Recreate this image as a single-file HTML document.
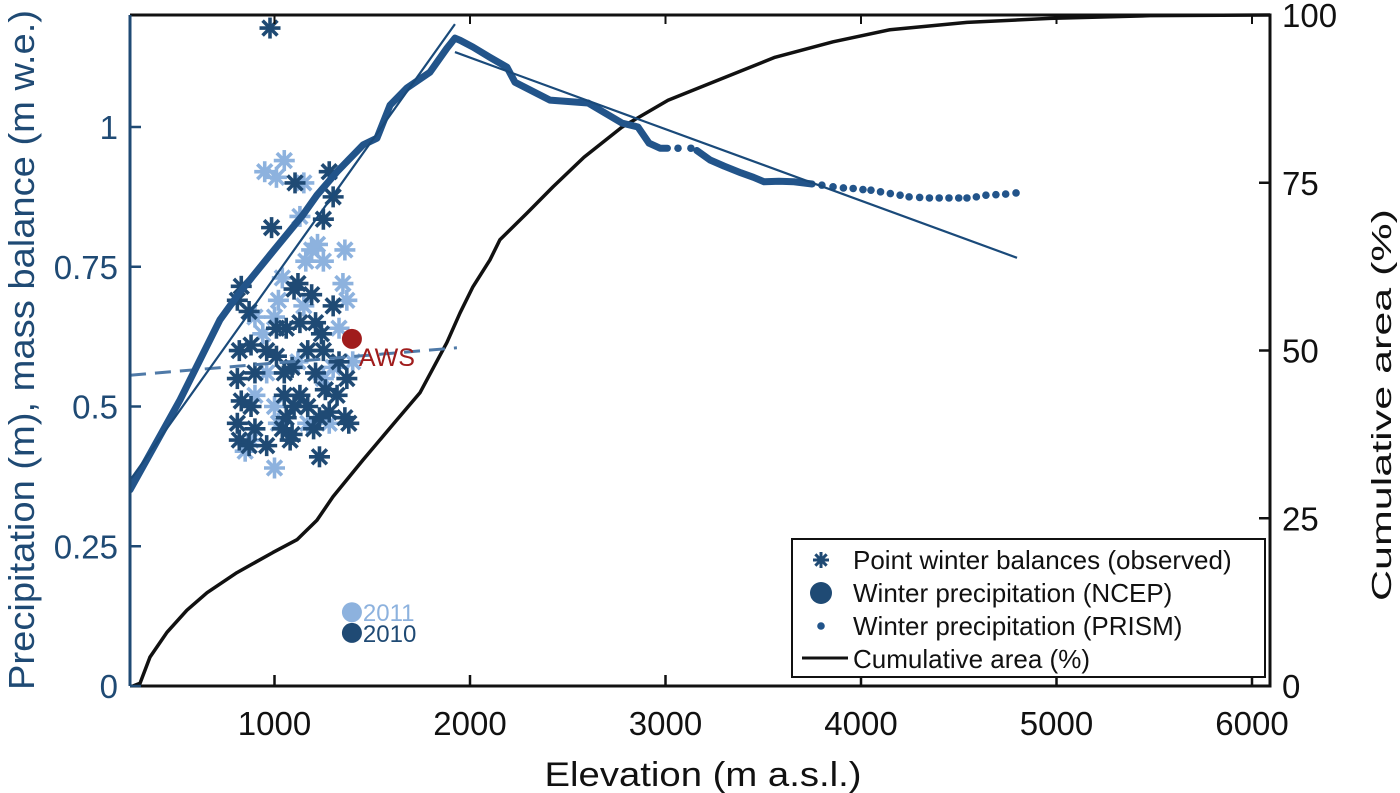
<!DOCTYPE html>
<html><head><meta charset="utf-8">
<style>
html,body{margin:0;padding:0;background:#fff;}
svg{display:block;font-family:"Liberation Sans",sans-serif;}
</style></head>
<body>
<svg id="chart" width="1400" height="793" viewBox="0 0 1400 793" xmlns="http://www.w3.org/2000/svg">
<g id="plot"></g>
</svg>
<script>
const xTicks=[1000,2000,3000,4000,5000,6000];
const yLeftTicks=[0,0.25,0.5,0.75,1];
const yLeftLabels=["0","0.25","0.5","0.75","1"];
const yRightTicks=[0,25,50,75,100];
const prismElev=[261,517,721,824,977,1146,1217,1320,1453,1524,1591,1678,1795,1882,1923,1950,2015,2100,2189,2230,2409,2604,2778,2859,2916,2972,3010];
const prismVal=[0.351,0.512,0.655,0.705,0.771,0.843,0.878,0.920,0.968,0.980,1.039,1.070,1.098,1.141,1.159,1.155,1.143,1.125,1.107,1.080,1.048,1.043,1.007,1.000,0.971,0.962,0.962];
const prism2Elev=[3160,3228,3300,3386,3450,3504,3580,3657,3750];
const prism2Val=[0.958,0.941,0.930,0.918,0.910,0.902,0.903,0.902,0.898];
const prismDotElev=[3064,3130,3800,3857,3910,3960,4010,4051,4100,4150,4200,4246,4300,4350,4400,4450,4500,4542,4590,4639,4690,4740,4793];
const prismDotVal=[0.962,0.962,0.896,0.893,0.891,0.890,0.888,0.887,0.884,0.881,0.878,0.875,0.874,0.873,0.873,0.873,0.873,0.873,0.875,0.878,0.879,0.880,0.882];
const fit1Elev=[261,1923], fit1Val=[0.368,1.184];
const fit2Elev=[1923,4798], fit2Val=[1.134,0.766];
const dashElev=[261,1933], dashVal=[0.556,0.605];
const cumElev=[276,312,363,450,552,655,808,992,1115,1217,1299,1453,1627,1744,1882,1949,2015,2102,2153,2292,2425,2583,2778,3013,3269,3560,3857,4148,4542,4967,5478,6092];
const cumPct=[0,0.4,4.3,8.0,11.3,13.9,16.9,19.9,21.8,24.7,28.2,33.7,39.7,43.7,51.2,55.6,59.5,63.5,66.5,70.5,74.4,78.8,83.3,87.3,90.3,93.7,96.0,97.8,98.9,99.5,99.9,100];
const lightElev=[950,1050,1010,1130,1150,1220,1190,1250,1160,1360,1350,1370,1040,1020,1000,1150,900,940,1330,1400,960,900,1000,1120,1300,1280,1170,850,1000,880,1020,1250];
const lightVal=[0.92,0.94,0.91,0.84,0.90,0.79,0.78,0.76,0.76,0.78,0.72,0.69,0.73,0.69,0.66,0.68,0.66,0.63,0.64,0.58,0.56,0.52,0.50,0.58,0.57,0.47,0.47,0.42,0.39,0.44,0.47,0.55];
const darkElev=[977,985,1105,1280,1300,1250,830,810,870,1190,1120,1100,1300,1010,1060,1130,1210,1240,880,820,960,1010,1170,1250,1330,1370,810,900,1050,1090,1210,1260,1320,830,880,1050,1100,1170,1230,1280,1360,1380,810,900,1040,1090,1200,820,870,960,1230,1080,1130,1060];
const darkVal=[1.177,0.82,0.90,0.92,0.875,0.835,0.715,0.69,0.67,0.70,0.72,0.71,0.68,0.64,0.64,0.65,0.65,0.63,0.61,0.60,0.60,0.59,0.60,0.60,0.58,0.55,0.55,0.56,0.56,0.57,0.56,0.53,0.52,0.51,0.50,0.52,0.50,0.50,0.48,0.49,0.48,0.47,0.47,0.46,0.46,0.45,0.46,0.44,0.43,0.43,0.41,0.44,0.52,0.48];
const awsElev=1396, awsVal=0.621;
const ncepElev=[1396,1396], ncepVal=[0.132,0.095], ncepYear=["2011","2010"];

const L=130,R=1270,T=15,B=686;
const X=e=>79+e*0.1955;
const Y=v=>B-v*559;
const YR=p=>B-p*(B-T)/100;
const NS="http://www.w3.org/2000/svg";
const g=document.getElementById('plot');
function mk(tag,attrs,parent){const el=document.createElementNS(NS,tag);for(const k in attrs)el.setAttribute(k,attrs[k]);(parent||g).appendChild(el);return el;}
const DARK="#1f4a74",LIGHT="#8db2de",BLUE="#22548a";

const defs=mk('defs',{});
const cp=mk('clipPath',{id:'clip'},defs);mk('rect',{x:L,y:T-5,width:R-L,height:B-T+5},cp);
const inner=mk('g',{'clip-path':'url(#clip)'});

let cum=mk('polyline',{points:cumElev.map((e,i)=>X(e)+','+YR(cumPct[i])).join(' '),fill:'none',stroke:'#111',"stroke-width":3.5,"stroke-linejoin":"round"},inner);



function star(cx,cy,col,name){const s=mk('g',{},inner);


for(let a=0;a<4;a++){const t=a*Math.PI/4,r=10.5;mk('line',{x1:cx-r*Math.cos(t),y1:cy-r*Math.sin(t),x2:cx+r*Math.cos(t),y2:cy+r*Math.sin(t),stroke:col,"stroke-width":3.6},s);}}
lightElev.forEach((e,i)=>star(X(e),Y(lightVal[i]),LIGHT,'winter-balance-2011'));
darkElev.forEach((e,i)=>star(X(e),Y(darkVal[i]),DARK,'winter-balance-2010'));

let d=mk('line',{x1:X(dashElev[0]),y1:Y(dashVal[0]),x2:X(dashElev[1]),y2:Y(dashVal[1]),stroke:'#4f7aa8',"stroke-width":3,"stroke-dasharray":"16,9"},inner);



[[prismElev,prismVal,'prism-precipitation-line'],[prism2Elev,prism2Val,'prism-precipitation-line-upper']].forEach(([E,V,n])=>{
const p=mk('polyline',{points:E.map((e,i)=>X(e)+','+Y(V[i])).join(' '),fill:'none',stroke:BLUE,"stroke-width":7,"stroke-linejoin":"round","stroke-linecap":"round"},inner);

});
prismDotElev.forEach((e,i)=>{const c=mk('circle',{cx:X(e),cy:Y(prismDotVal[i]),r:3.8,fill:BLUE},inner);

});
[[fit1Elev,fit1Val,'prism-fit-lower'],[fit2Elev,fit2Val,'prism-fit-upper']].forEach(([E,V,n])=>{const l=mk('line',{x1:X(E[0]),y1:Y(V[0]),x2:X(E[1]),y2:Y(V[1]),stroke:'#1a4a7a',"stroke-width":2.2},inner);

});

let aw=mk('circle',{cx:X(awsElev),cy:Y(awsVal),r:10,fill:'#a01c1c'},inner);


let at=mk('text',{x:X(awsElev)+7,y:Y(awsVal)+27,fill:'#a01c1c',"font-size":25});at.textContent='AWS';


ncepElev.forEach((e,i)=>{const col=i==0?LIGHT:DARK;
const c=mk('circle',{cx:X(e),cy:Y(ncepVal[i]),r:10,fill:col},inner);


const t=mk('text',{x:X(e)+11,y:Y(ncepVal[i])+9,fill:col,"font-size":24});t.textContent=ncepYear[i];

});

mk('polyline',{points:`${L},${T} ${R},${T} ${R},${B} ${L},${B}`,fill:'none',stroke:'#111',"stroke-width":3});
mk('line',{x1:L,y1:T,x2:L,y2:B,stroke:DARK,"stroke-width":3});
xTicks.forEach(t=>{mk('line',{x1:X(t),y1:B,x2:X(t),y2:B-11,stroke:'#111',"stroke-width":2.5});mk('line',{x1:X(t),y1:T,x2:X(t),y2:T+9,stroke:'#111',"stroke-width":2});
const tx=mk('text',{x:X(t),y:735,"text-anchor":"middle","font-size":33,fill:'#111'});tx.textContent=t;

});
yLeftTicks.forEach((t,i)=>{mk('line',{x1:L,y1:Y(t),x2:L+11,y2:Y(t),stroke:DARK,"stroke-width":2.5});
const tx=mk('text',{x:118,y:Y(t)+12,"text-anchor":"end","font-size":33,fill:DARK});tx.textContent=yLeftLabels[i];

});
yRightTicks.forEach(t=>{mk('line',{x1:R,y1:YR(t),x2:R-11,y2:YR(t),stroke:'#111',"stroke-width":2.5});
const tx=mk('text',{x:1282,y:YR(t)+12,"font-size":33,fill:'#111'});tx.textContent=t;

});
let xt=mk('text',{x:703,y:786,"text-anchor":"middle","font-size":34,fill:'#111',textLength:317,lengthAdjust:"spacingAndGlyphs"});xt.textContent='Elevation (m a.s.l.)';


let yl=mk('text',{x:0,y:0,"text-anchor":"middle","font-size":36,fill:DARK,textLength:680,lengthAdjust:"spacingAndGlyphs",transform:`translate(34,350) rotate(-90)`});yl.textContent='Precipitation (m), mass balance (m w.e.)';


let yr=mk('text',{x:0,y:0,"text-anchor":"middle","font-size":28,fill:'#111',textLength:392,lengthAdjust:"spacingAndGlyphs",transform:`translate(1391,405) rotate(-90)`});yr.textContent='Cumulative area (%)';



const lg=mk('g',{});


mk('rect',{x:792,y:539,width:473,height:138,fill:'#fff',stroke:'#111',"stroke-width":2},lg);
const items=['Point winter balances (observed)','Winter precipitation (NCEP)','Winter precipitation (PRISM)','Cumulative area (%)'];
items.forEach((s,i)=>{const y=560+i*33;
const t=mk('text',{x:853,y:y+9,"font-size":26,fill:'#111'},lg);t.textContent=s;

});
for(let a=0;a<4;a++){const tt=a*Math.PI/4;mk('line',{x1:821-8*Math.cos(tt),y1:560-8*Math.sin(tt),x2:821+8*Math.cos(tt),y2:560+8*Math.sin(tt),stroke:DARK,"stroke-width":3},lg);}
mk('circle',{cx:821,cy:593,r:11,fill:DARK},lg);
mk('circle',{cx:821,cy:626,r:3.8,fill:BLUE},lg);
mk('line',{x1:802,y1:658,x2:848,y2:658,stroke:'#111',"stroke-width":3},lg);
</script>
</body></html>
